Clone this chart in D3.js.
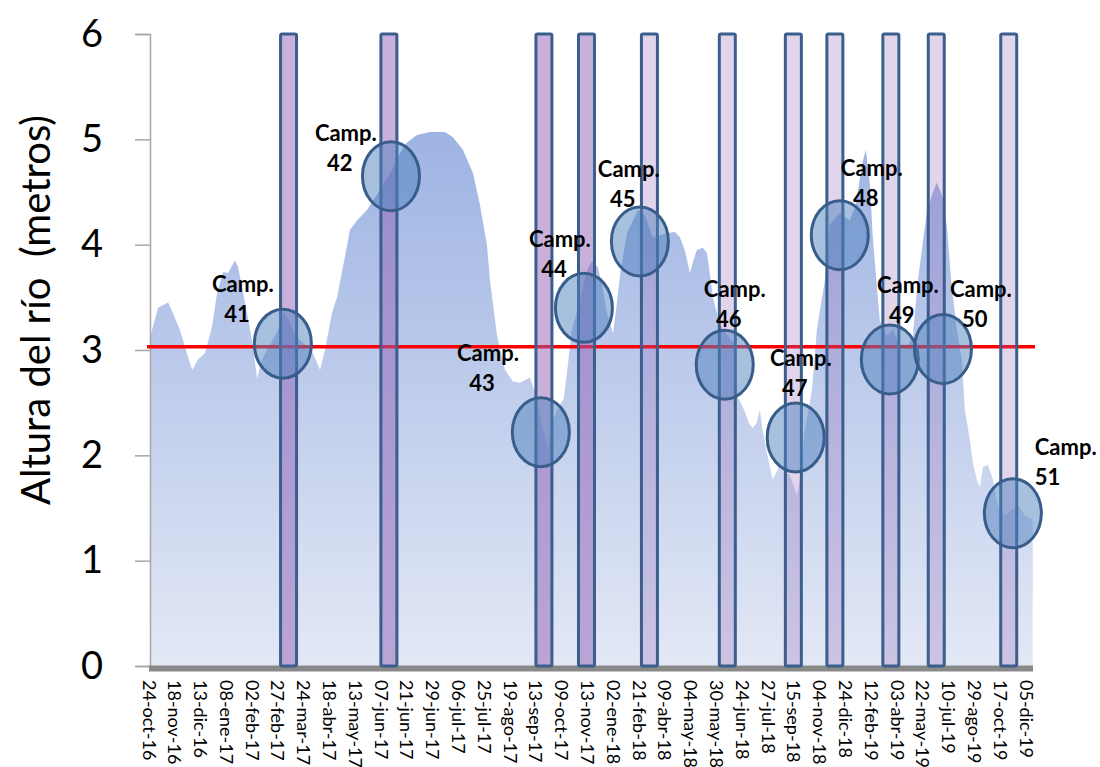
<!DOCTYPE html>
<html><head><meta charset="utf-8">
<script src="https://cdn.jsdelivr.net/npm/d3@7"></script>
<style>body{margin:0;background:#fff;} svg{display:block;font-family:Lato,'Open Sans',sans-serif;}</style>
</head><body><svg id="chart" width="1100" height="767"></svg>
<script>
// ---- data ----
const dateLabels = ["24-oct-16","18-nov-16","13-dic-16","08-ene-17","02-feb-17","27-feb-17","24-mar-17","18-abr-17","13-may-17","07-jun-17","21-jun-17","29-jun-17","06-jul-17","25-jul-17","19-ago-17","13-sep-17","09-oct-17","13-nov-17","02-ene-18","21-feb-18","09-abr-18","04-may-18","30-may-18","24-jun-18","27-jul-18","15-sep-18","04-nov-18","24-dic-18","12-feb-19","03-abr-19","22-may-19","10-jul-19","29-ago-19","17-oct-19","05-dic-19"];
const yTicks = [0,1,2,3,4,5,6];
// river level series: position on the category axis (label index units) and level in metres
const riverPos = [0.06,0.37,0.76,0.95,1.22,1.49,1.69,1.92,2.19,2.46,
2.66,2.89,3.08,3.35,3.47,3.62,3.82,4.01,4.21,4.40,
4.71,5.02,5.25,5.41,5.68,6.07,6.38,6.65,6.84,7.11,
7.31,7.54,7.81,8.08,8.47,8.97,9.44,9.75,10.02,10.41,
10.91,11.49,11.80,12.19,12.58,12.85,13.12,13.24,13.51,13.82,
14.13,14.40,14.79,14.98,15.21,15.48,15.68,15.87,16.10,16.26,
16.41,16.73,17.00,17.19,17.42,17.62,17.78,18.01,18.17,18.29,
18.55,18.78,18.97,19.24,19.55,19.83,20.10,20.41,20.60,20.79,
20.99,21.10,21.26,21.49,21.65,21.76,21.88,22.15,22.46,22.73,
22.85,23.04,23.31,23.43,23.58,23.70,23.81,24.01,24.20,24.48,
24.86,25.14,25.25,25.45,25.72,25.91,26.03,26.22,26.41,26.80,
27.19,27.42,27.66,27.81,27.97,28.08,28.24,28.35,28.62,28.86,
29.13,29.44,29.63,29.71,29.83,29.98,30.17,30.37,30.56,30.79,
30.95,31.14,31.34,31.53,31.65,31.84,31.96,32.11,32.23,32.35,
32.54,32.74,32.93,33.20,33.47,33.70,33.97,34.28];
const riverLevel = [3.12,3.40,3.45,3.35,3.19,2.97,2.81,2.91,2.97,3.22,
3.54,3.74,3.73,3.85,3.79,3.60,3.35,3.10,2.73,2.91,
3.05,3.19,3.36,3.30,3.14,3.05,2.97,2.81,3.00,3.35,
3.50,3.79,4.14,4.23,4.33,4.52,4.71,4.87,4.97,5.04,
5.07,5.07,5.02,4.90,4.68,4.38,4.00,3.66,3.14,2.81,
2.70,2.69,2.74,2.60,2.34,2.05,2.34,2.45,2.54,2.86,
3.19,3.47,3.76,3.84,3.79,3.57,3.35,3.16,3.47,3.73,
4.11,4.23,4.33,4.28,4.07,4.09,4.11,4.12,4.07,3.95,
3.73,3.83,3.95,3.97,3.92,3.73,3.50,3.24,3.14,3.05,
2.55,2.46,2.29,2.26,2.31,2.43,2.24,1.98,1.77,1.91,
1.81,1.62,1.77,2.24,2.62,3.19,3.38,3.66,4.19,4.30,
4.23,4.38,4.76,4.90,4.57,4.07,3.60,3.28,3.14,3.19,
3.05,3.05,3.12,3.35,3.66,3.95,4.30,4.47,4.59,4.45,
4.17,3.60,3.19,2.91,2.43,2.15,1.93,1.77,1.70,1.89,
1.91,1.77,1.53,1.43,1.48,1.53,1.43,1.39];
const referenceLevel = 3.03;
// sampling campaigns
const campaigns = ["41","42","43","44","45","46","47","48","49","50","51"];
const campaignBarPos = [5.43,9.32,15.33,16.98,19.42,22.44,25.0,26.61,28.78,30.54,33.35];
const campaignBarTop = 6;
const campaignMarkPos = [5.21,9.40,15.21,16.88,19.05,22.34,25.09,26.80,28.74,30.80,33.51];
const campaignMarkLevel = [3.06,4.65,2.22,3.40,4.03,2.86,2.17,4.09,2.91,3.01,1.45];
const campaignLabelPos = [3.66,7.65,13.16,15.95,18.62,22.73,25.29,28.04,29.44,32.27,34.36];
const campaignLabelLevel = [3.55,4.98,2.90,3.98,4.64,3.50,2.85,4.65,3.54,3.50,2.00];

// ---- drawing ----
const svg = d3.select("#chart");
const x = d3.scaleLinear().domain([0,34]).range([148.5,1025.5]);
const y = d3.scaleLinear().domain([0,6]).range([666,34]);
const plotL = 150, plotR = 1033;

const defs = svg.append("defs");
const g = defs.append("linearGradient").attr("id","areaGrad")
  .attr("gradientUnits","userSpaceOnUse").attr("x1",0).attr("x2",0)
  .attr("y1",y(5.1)).attr("y2",y(0));
g.append("stop").attr("offset",0).attr("stop-color","#9db3e3");
g.append("stop").attr("offset",1).attr("stop-color","#e3e8f5");

const riverData = riverPos.map((p,i)=>({p, v: riverLevel[i]}));
svg.append("path").datum(riverData)
  .attr("d", d3.area().x(d=>x(d.p)).y0(y(0)).y1(d=>y(d.v)))
  .attr("fill","url(#areaGrad)");

// y axis
const yAxis = svg.append("g").attr("transform",`translate(${plotL},0)`)
  .call(d3.axisLeft(y).tickValues(yTicks).tickSize(15).tickPadding(32).tickFormat(d3.format("d")));
yAxis.select(".domain").attr("stroke","#a6a6a6").attr("stroke-width",1.5);
yAxis.selectAll(".tick line").attr("stroke","#a6a6a6").attr("stroke-width",1.5);
yAxis.selectAll(".tick text").attr("font-size",38).attr("fill","#000").attr("font-family","Lato");

// x axis baseline (thick gray)
svg.append("line").attr("x1",plotL-1).attr("x2",plotR).attr("y1",y(0)+2.5).attr("y2",y(0)+2.5)
  .attr("stroke","#898989").attr("stroke-width",6);

const xAxis = svg.append("g").attr("transform",`translate(0,${y(0)+14})`)
  .call(d3.axisBottom(x).tickValues(d3.range(dateLabels.length)).tickSize(0).tickFormat(i=>dateLabels[i]));
xAxis.select(".domain").remove();
xAxis.selectAll(".tick text")
  .attr("transform","rotate(90)").attr("text-anchor","start")
  .attr("x",0).attr("y",0).attr("dy","0.36em")
  .attr("font-size",18).attr("fill","#000").attr("font-family","Lato");

// reference line
svg.append("line").attr("x1",plotL-3).attr("x2",plotR+2)
  .attr("y1",y(referenceLevel)).attr("y2",y(referenceLevel))
  .attr("stroke","#ff0000").attr("stroke-width",3.5);

// campaign bars
svg.append("g").selectAll("rect").data(campaigns).join("rect")
  .attr("x",(d,i)=>x(campaignBarPos[i])-8).attr("width",16)
  .attr("y",y(campaignBarTop)).attr("height",y(0)-y(campaignBarTop))
  .attr("rx",1.5)
  .attr("fill","#9162b5").attr("fill-opacity",(d,i)=> i<4 ? 0.5 : 0.27)
  .attr("stroke","#3b5e8c").attr("stroke-width",3);

// campaign ellipses
svg.append("g").selectAll("ellipse").data(campaigns).join("ellipse")
  .attr("cx",(d,i)=>x(campaignMarkPos[i])).attr("cy",(d,i)=>y(campaignMarkLevel[i]))
  .attr("rx",28.5).attr("ry",34.5)
  .attr("fill","#4f81bd").attr("fill-opacity",0.5)
  .attr("stroke","#385d8a").attr("stroke-width",3);

// campaign labels
const last = campaigns.length-1;
const lab = svg.append("g").attr("font-weight","bold").attr("font-size",22).attr("fill","#000");
campaigns.forEach((c,i)=>{
  const t = lab.append("text")
    .attr("x", x(campaignLabelPos[i])).attr("y", y(campaignLabelLevel[i]))
    .attr("text-anchor", i===last ? "start" : "middle");
  t.append("tspan").attr("x", x(campaignLabelPos[i])).text("Camp.");
  t.append("tspan").attr("x", x(campaignLabelPos[i]) + (i===last?0:-6)).attr("dy",30).text(c);
});

// y axis title
svg.append("text").attr("transform",`translate(50,${(y(0)+y(6))/2-40}) rotate(-90)`)
  .attr("text-anchor","middle").attr("font-size",40).attr("fill","#000")
  .style("white-space","pre")
  .text("Altura del río  (metros)");
</script></body></html>
